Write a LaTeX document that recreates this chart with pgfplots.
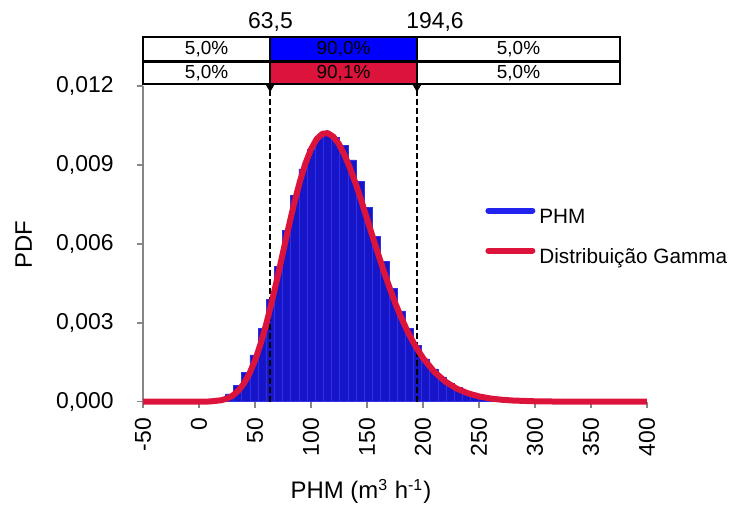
\documentclass[border=0pt]{standalone}
\usepackage{fontspec}
\setmainfont{Liberation Sans}
\usepackage{pgfplots}
\pgfplotsset{compat=1.18}
\definecolor{histfill}{RGB}{22,22,200}
\definecolor{histedge}{RGB}{48,48,235}
\definecolor{phmblue}{RGB}{35,35,240}
\definecolor{boxblue}{RGB}{0,0,255}
\definecolor{gammared}{RGB}{220,20,60}
\definecolor{axisgray}{RGB}{134,134,134}
\begin{document}
\begin{tikzpicture}
\begin{axis}[
  scale only axis, width=252bp, height=157.85bp,
  xmin=-50, xmax=400, ymin=0, ymax=0.012,
  clip=false,
  axis x line*=bottom, axis y line*=left,
  axis line style={axisgray, line width=0.8bp},
  tick style={axisgray, line width=0.8bp},
  tick align=outside, major tick length=3.2bp,
  xtick={-50,0,...,400}, ytick={0,0.003,0.006,0.009,0.012},
  scaled y ticks=false,
  /pgf/number format/assume math mode=true,
  tick label style={font=\fontsize{11.5}{13}\selectfont, text=black},
  yticklabel style={xshift=-8bp, /pgf/number format/.cd, fixed, fixed zerofill, precision=3, use comma},
  xticklabel style={yshift=-1.5bp, rotate=90, anchor=east},
  legend style={at={(rel axis cs:0.6786,0.5185)}, anchor=west, draw=none, fill=none,
    inner sep=0pt, row sep=9.5bp, font=\fontsize{10.4}{12}\selectfont,
    nodes={inner sep=0pt, text height=8bp, text depth=2.5bp}},
  legend cell align=left,
  legend image code/.code={\draw[#1] (0bp,3.7bp) -- (22bp,3.7bp); \path (24bp,0bp);},
]
% histogram (bin width ~7.3)
\addplot[ybar interval, fill=histfill, draw=histedge, line width=0.3bp, forget plot] coordinates {
 (1.6,0.00002) (8.9,0.00005) (16.2,0.00012) (23.5,0.00030) (30.8,0.00062)
 (38.1,0.00110) (45.4,0.00178) (52.7,0.00280) (60.0,0.00390) (67.3,0.00515)
 (74.6,0.00650) (81.9,0.00785) (89.2,0.00885) (96.5,0.00960) (103.8,0.01010)
 (111.1,0.01025) (118.4,0.01005) (125.7,0.00975) (133.0,0.00919) (140.3,0.00836)
 (147.6,0.00739) (154.9,0.00627) (162.2,0.00532) (169.5,0.00430) (176.8,0.00345)
 (184.1,0.00280) (191.4,0.00215) (198.7,0.00163) (206.0,0.00125) (213.3,0.00094)
 (220.6,0.00070) (227.9,0.00053) (235.2,0.00040) (242.5,0.00030) (249.8,0.00024)
 (257.1,0.00019) (264.4,0.00016) (271.7,0.00014) (279.0,0.00012) (286.3,0.00011)
 (293.6,0.00010) (300.9,0.00009) (308.2,0.00008) (315.5,0.00007) (322.8,0.00006)
 (330.1,0.00004) (337.4,0)
};
% 5% / 95% limits
\addplot[black, line width=1bp, dash pattern=on 3bp off 1.5bp, forget plot] coordinates {(63.5,0) (63.5,0.012076)};
\addplot[black, line width=1bp, dash pattern=on 3bp off 1.5bp, forget plot] coordinates {(194.6,0) (194.6,0.012076)};
% gamma fit
\addplot[gammared, line width=3bp, line join=round, forget plot] coordinates {
 (-50,0) (0,0) (10,0.0000086) (20,0.000056) (25,0.00012) (30,0.000231) (35,0.000412)
 (40,0.000683) (45,0.001065) (50,0.001568) (55,0.002197) (60,0.002942) (65,0.003793)
 (70,0.004712) (75,0.005675) (80,0.006634) (85,0.007547) (90,0.008357) (95,0.009054)
 (100,0.009595) (105,0.00998) (110,0.01018) (115,0.01021) (120,0.01007) (125,0.00979)
 (130,0.00937) (135,0.00886) (140,0.00828) (145,0.00763) (150,0.00696) (155,0.00628)
 (160,0.00561) (165,0.00496) (170,0.00435) (175,0.00377) (180,0.00325) (185,0.00278)
 (190,0.00236) (195,0.00199) (200,0.00166) (210,0.00114) (220,0.000763) (230,0.000499)
 (240,0.00032) (250,0.000201) (260,0.000124) (270,0.000075) (280,0.000045)
 (300,0.000015) (320,0.000005) (400,0)
};
% percentage bars above the plot
\addplot[draw=black, line width=1bp, fill=white, forget plot] coordinates {(-50,0.012950) (63.5,0.012950) (63.5,0.013862) (-50,0.013862)} -- cycle;
\addplot[draw=black, line width=1bp, fill=boxblue, forget plot] coordinates {(63.5,0.012950) (194.6,0.012950) (194.6,0.013862) (63.5,0.013862)} -- cycle;
\addplot[draw=black, line width=1bp, fill=white, forget plot] coordinates {(194.6,0.012950) (376,0.012950) (376,0.013862) (194.6,0.013862)} -- cycle;
\addplot[draw=black, line width=1bp, fill=white, forget plot] coordinates {(-50,0.012076) (63.5,0.012076) (63.5,0.012893) (-50,0.012893)} -- cycle;
\addplot[draw=black, line width=1bp, fill=gammared, forget plot] coordinates {(63.5,0.012076) (194.6,0.012076) (194.6,0.012893) (63.5,0.012893)} -- cycle;
\addplot[draw=black, line width=1bp, fill=white, forget plot] coordinates {(194.6,0.012076) (376,0.012076) (376,0.012893) (194.6,0.012893)} -- cycle;
\addplot[only marks, mark=triangle*, mark size=2bp, mark options={rotate=180, fill=black, draw=black}, forget plot] coordinates {(63.5,0.01195) (194.6,0.01195)};
\node[font=\fontsize{9.5}{10}\selectfont] at (axis cs:6.75,0.013406) {5,0\%};
\node[font=\fontsize{9.5}{10}\selectfont] at (axis cs:129.05,0.013406) {90,0\%};
\node[font=\fontsize{9.5}{10}\selectfont] at (axis cs:285.3,0.013406) {5,0\%};
\node[font=\fontsize{9.5}{10}\selectfont] at (axis cs:6.75,0.0124845) {5,0\%};
\node[font=\fontsize{9.5}{10}\selectfont] at (axis cs:129.05,0.0124845) {90,1\%};
\node[font=\fontsize{9.5}{10}\selectfont] at (axis cs:285.3,0.0124845) {5,0\%};
\node[anchor=base, font=\fontsize{11.5}{13}\selectfont] at (axis cs:63.8,0.014204) {63,5};
\node[anchor=base, font=\fontsize{11.5}{13}\selectfont] at (axis cs:210.7,0.014204) {194,6};
% axis titles
\node[rotate=90, font=\fontsize{12}{13}\selectfont] at (rel axis cs:-0.237,0.4964) {PDF};
\node[anchor=base, font=\fontsize{12}{13}\selectfont] at (rel axis cs:0.4325,-0.3082) {PHM (m\textsuperscript{3} h\textsuperscript{-1})};
\coordinate (ll) at (rel axis cs:0,0);
% legend
\addlegendimage{phmblue, line width=3bp, line cap=round}
\addlegendentry{PHM}
\addlegendimage{gammared, line width=3bp, line cap=round}
\addlegendentry{Distribuição Gamma}
\end{axis}
\path (ll) ++(-71.5bp,-53.15bp) rectangle ++(368bp,254bp);
\end{tikzpicture}
\end{document}
